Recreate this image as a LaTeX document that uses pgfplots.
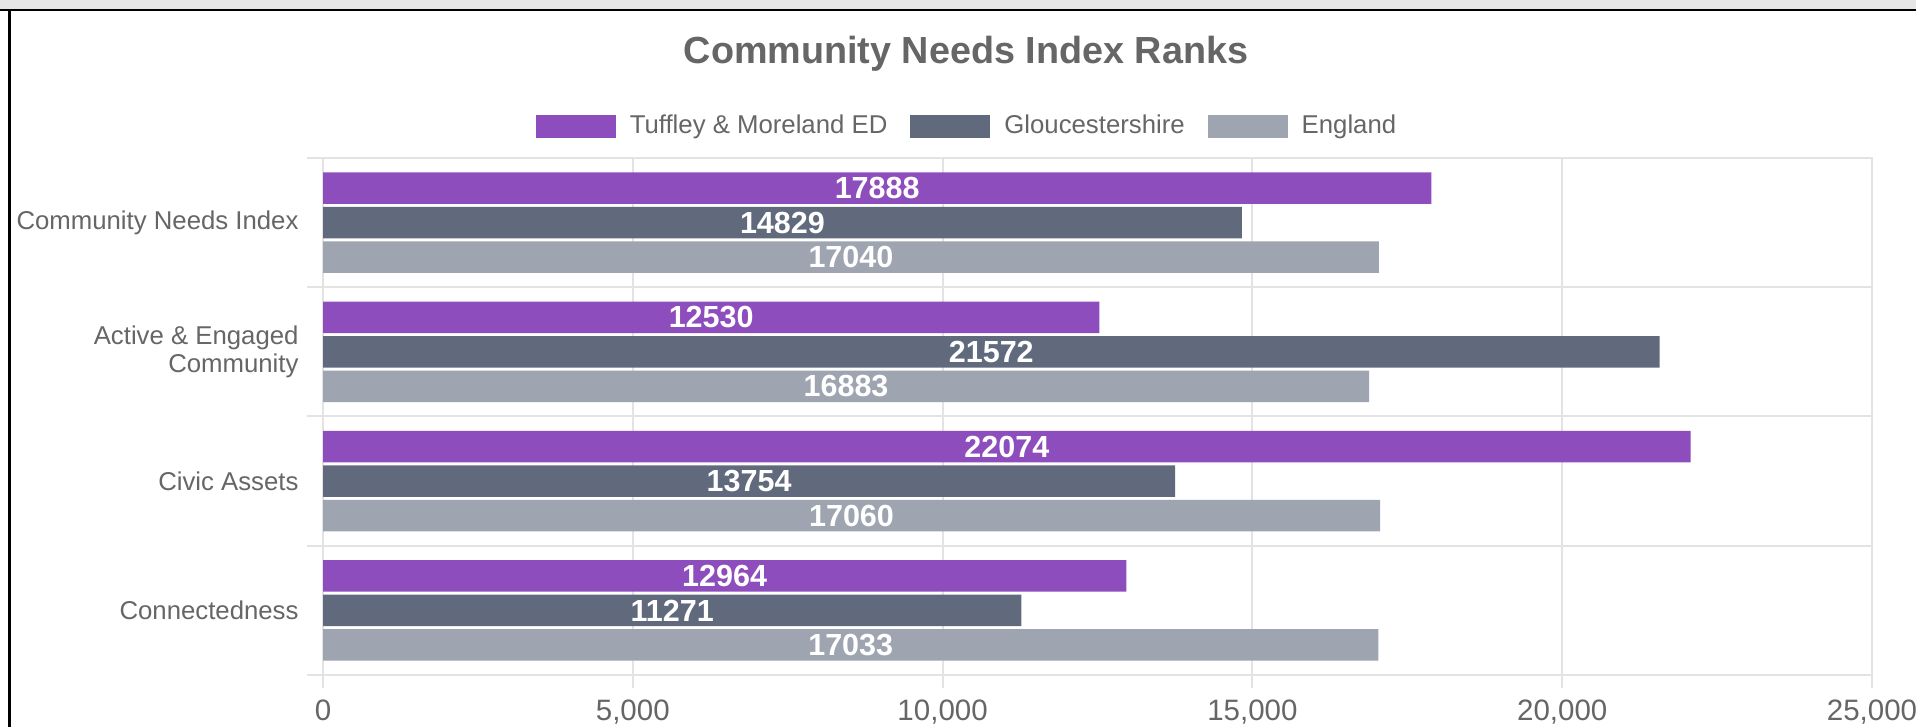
\documentclass[border=0pt]{standalone}
\usepackage{fontspec}
\setmainfont{Liberation Sans}
\usepackage{pgfplots}
\pgfplotsset{compat=1.18}
\definecolor{cpurple}{HTML}{8E4DBD}
\definecolor{cdark}{HTML}{616A7D}
\definecolor{clight}{HTML}{9EA5B1}
\definecolor{textgray}{HTML}{666666}
\definecolor{gridgray}{HTML}{E3E3E3}
\definecolor{bandgray}{HTML}{E6E6E6}
\begin{document}
\begin{tikzpicture}[x=0.4pt,y=0.4pt]
\useasboundingbox (0,0) rectangle (1916,727);
\clip (0,0) rectangle (1916,727);
\fill[white] (0,0) rectangle (1916,727);
\fill[bandgray] (0,717) rectangle (1916,727);
\draw[black, line width=0.8pt] (0,717) -- (1916,717);
\draw[black, line width=1.2pt] (9.5,0) -- (9.5,717);
\begin{axis}[
  at={(129.2pt,20.8pt)}, anchor=south west,
  width=619.6pt, height=206.8pt, scale only axis,
  xmin=0, xmax=25000, ymin=-0.5, ymax=3.5,
  xbar, bar width=12.6pt,
  scaled x ticks=false,
  xtick={0,5000,10000,15000,20000,25000},
  xtick pos=bottom, ytick pos=left,
  xmajorgrids, grid style={gridgray, line width=0.8pt},
  ytick={0,1,2,3},
  yticklabels={Connectedness, Civic Assets, {Active \& Engaged\\Community}, Community Needs Index},
  minor ytick={-0.5,0.5,1.5,2.5,3.5}, yminorgrids,
  minor grid style={gridgray, line width=0.8pt},
  tick align=outside,
  major tick length=5.2pt, minor tick length=6.4pt,
  major x tick style={gridgray, line width=0.8pt},
  major y tick style={draw=none},
  minor y tick style={gridgray, line width=0.8pt},
  axis line style={gridgray, line width=0.8pt},
  xticklabel style={font=\fontsize{11.8}{14}\selectfont, text=textgray, yshift=-1.2pt, /pgf/number format/assume math mode=true, /pgf/number format/1000 sep={,}},
  yticklabel style={font=\fontsize{10.3}{11.2}\selectfont, text=textgray, align=right, anchor=east, inner sep=0pt, xshift=-4.4pt},
  title={Community Needs Index Ranks},
  title style={at={(0.4151,1.172)}, anchor=center, font=\bfseries\fontsize{15.1}{18}\selectfont, text=textgray},
  legend columns=3,
  legend style={at={(0.4151,1.0609)}, anchor=center, draw=none, fill=none,
    font=\fontsize{10.3}{12}\selectfont, text=textgray,
    nodes={inner sep=0pt},
    column sep=5.6pt,
    /tikz/every even column/.append style={column sep=9.2pt}},
  legend image code/.code={\fill[#1] (0pt,-4.6pt) rectangle (32pt,4.6pt);},
  point meta=x,
  visualization depends on={x \as \rawx},
  nodes near coords={\pgfmathprintnumber[fixed,precision=0,1000 sep={},assume math mode=true]{\pgfplotspointmeta}},
  every node near coord/.append style={font=\bfseries\fontsize{12.2}{14}\selectfont, text=white, anchor=center, inner sep=0pt,
    shift={(axis direction cs:-\rawx/2,0)}},
]
\addplot[fill=cpurple, draw=none, bar shift=13.8pt] coordinates {(17888,3) (12530,2) (22074,1) (12964,0)};
\addlegendentry{Tuffley \& Moreland ED}
\addplot[fill=cdark, draw=none, bar shift=0pt] coordinates {(14829,3) (21572,2) (13754,1) (11271,0)};
\addlegendentry{Gloucestershire}
\addplot[fill=clight, draw=none, bar shift=-13.8pt] coordinates {(17040,3) (16883,2) (17060,1) (17033,0)};
\addlegendentry{England}
\end{axis}
\end{tikzpicture}
\end{document}
